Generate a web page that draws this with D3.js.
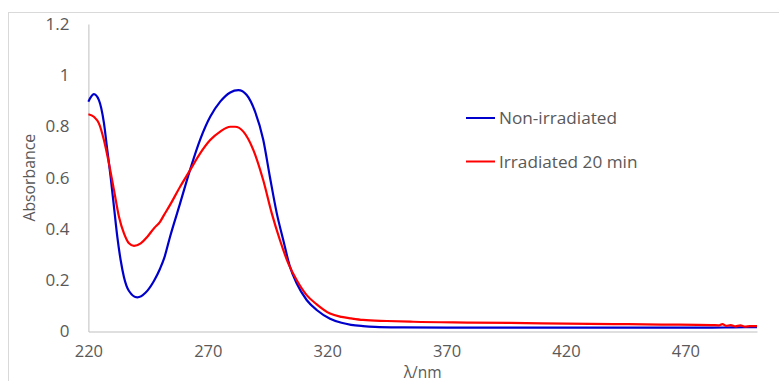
<!DOCTYPE html>
<html>
<head>
<meta charset="utf-8">
<script src="https://cdn.jsdelivr.net/npm/d3@7"></script>
<style>
  html, body { margin: 0; padding: 0; background: #fff; }
  svg text { font-family: "Open Sans", "Noto Sans", sans-serif; fill: #595959; }
</style>
</head>
<body>
<svg id="chart" width="779" height="381"></svg>
<script>
// ---- Data ----
const xTicks = [220, 270, 320, 370, 420, 470];
const yTicks = [0, 0.2, 0.4, 0.6, 0.8, 1, 1.2];
const yTickLabels = ["0", "0.2", "0.4", "0.6", "0.8", "1", "1.2"];
const seriesNames = ["Non-irradiated", "Irradiated 20 min"];

const nonIrrWavelength = [220, 222.3, 224.4, 226.5, 227.9, 229.3, 230.7, 232.1, 233.5, 234.9, 237, 240.5, 244, 247.5, 250, 251.7, 254.2, 258.4, 262.6, 266.8, 271, 275.2, 279.4, 282.8, 286.3, 289.8, 293.2, 296, 298.9, 301.6, 304.4, 307.2, 311.4, 315.6, 321.2, 326, 330, 335, 340, 350, 370, 400, 430, 460, 480, 490, 500];
const nonIrrAbs = [0.897, 0.926, 0.903, 0.814, 0.709, 0.604, 0.487, 0.37, 0.279, 0.212, 0.158, 0.133, 0.152, 0.198, 0.245, 0.285, 0.37, 0.5, 0.632, 0.749, 0.838, 0.897, 0.933, 0.942, 0.923, 0.858, 0.749, 0.604, 0.461, 0.357, 0.253, 0.188, 0.123, 0.084, 0.05, 0.034, 0.026, 0.021, 0.018, 0.016, 0.015, 0.015, 0.015, 0.015, 0.015, 0.016, 0.017];

const irrWavelength = [220, 222.3, 224.4, 226.5, 228.6, 230.7, 232.8, 234.9, 237, 239.1, 241.9, 244.7, 247.5, 250, 251.7, 254.2, 258.4, 262.6, 266.8, 271, 275.2, 279.4, 281.4, 284.9, 289.1, 293.2, 296.8, 300.2, 303.7, 307.2, 311.4, 315.6, 321.2, 326, 330, 335, 345, 356, 380, 410, 440, 460, 481, 484, 485.5, 487, 489, 491, 493, 495, 497, 500];
const irrAbs = [0.848, 0.838, 0.812, 0.747, 0.656, 0.552, 0.448, 0.383, 0.344, 0.334, 0.344, 0.37, 0.403, 0.428, 0.455, 0.494, 0.565, 0.63, 0.695, 0.747, 0.78, 0.799, 0.799, 0.78, 0.708, 0.591, 0.461, 0.357, 0.266, 0.201, 0.142, 0.106, 0.07, 0.057, 0.051, 0.045, 0.041, 0.038, 0.035, 0.032, 0.029, 0.027, 0.025, 0.024, 0.029, 0.022, 0.025, 0.02, 0.024, 0.019, 0.021, 0.021];

const colors = ["#0000cc", "#ff0000"];

// ---- Layout ----
const svg = d3.select("#chart");
const x = d3.scaleLinear().domain([220, 500]).range([88.4, 757]);
const y = d3.scaleLinear().domain([0, 1.2]).range([331.5, 24]);

// outer chart border
svg.append("rect")
  .attr("x", 8.5).attr("y", 12.5)
  .attr("width", 800).attr("height", 400)
  .attr("fill", "none").attr("stroke", "#d9d9d9").attr("stroke-width", 1);

// y axis
const yAxis = svg.append("g")
  .attr("transform", `translate(${x(220)},0)`)
  .call(d3.axisLeft(y).tickValues(yTicks).tickSize(0).tickPadding(19)
        .tickFormat((d, i) => yTickLabels[i]));
yAxis.select(".domain").attr("stroke", "#bfbfbf").attr("stroke-width", 1);
yAxis.selectAll("text").style("font-size", "17px").attr("fill", "#595959");

// x axis
const xAxis = svg.append("g")
  .attr("transform", `translate(0,${y(0)})`)
  .call(d3.axisBottom(x).tickValues(xTicks).tickSize(0).tickPadding(14));
xAxis.select(".domain").attr("stroke", "#bfbfbf").attr("stroke-width", 1);
xAxis.selectAll("text").style("font-size", "16.5px").attr("fill", "#595959");

// axis titles
svg.append("text")
  .attr("x", (x(220) + x(500)) / 2).attr("y", 377.5)
  .attr("text-anchor", "middle").style("font-size", "15.5px")
  .text("λ/nm");
svg.append("text")
  .attr("transform", `translate(35,${(y(0) + y(1.2)) / 2}) rotate(-90)`)
  .attr("text-anchor", "middle").style("font-size", "15.8px")
  .text("Absorbance");

// lines
const line = d3.line()
  .x(d => x(d[0])).y(d => y(d[1]))
  .curve(d3.curveMonotoneX);

const series = [
  nonIrrWavelength.map((w, i) => [w, nonIrrAbs[i]]),
  irrWavelength.map((w, i) => [w, irrAbs[i]])
];

svg.append("g").selectAll("path")
  .data(series)
  .join("path")
  .attr("d", line)
  .attr("fill", "none")
  .attr("stroke", (d, i) => colors[i])
  .attr("stroke-width", 2.2)
  .attr("stroke-linejoin", "round");

// legend
const legend = svg.append("g");
const legendY = [118, 161.5];
seriesNames.forEach((name, i) => {
  legend.append("line")
    .attr("x1", 466).attr("x2", 495)
    .attr("y1", legendY[i]).attr("y2", legendY[i])
    .attr("stroke", colors[i]).attr("stroke-width", 2);
  legend.append("text")
    .attr("x", 499).attr("y", legendY[i]).attr("dy", "0.35em")
    .style("font-size", "17.2px")
    .text(name);
});
</script>
</body>
</html>
